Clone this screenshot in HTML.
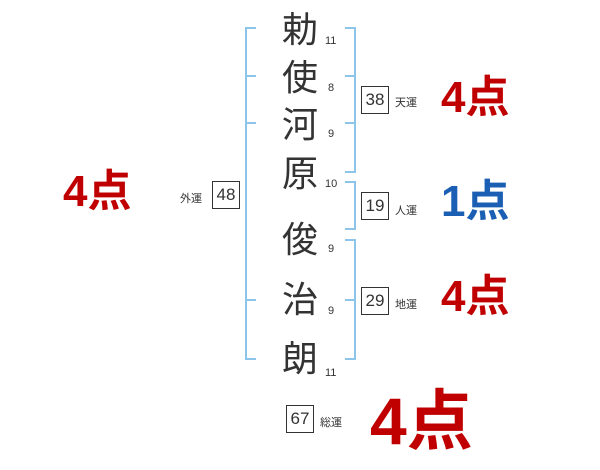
<!DOCTYPE html>
<html><head><meta charset="utf-8"><style>
body{margin:0;width:600px;height:470px;background:#fff;position:relative;overflow:hidden;font-family:"Liberation Sans","Noto Sans CJK JP",sans-serif;}
.k{position:absolute;font-size:36px;color:#333;width:60px;text-align:center;line-height:40px;}
.n{position:absolute;font-size:11px;color:#333;}
.b{position:absolute;border:1px solid #333;width:26px;height:26px;font-size:17px;text-align:center;line-height:26px;color:#333;}
.l{position:absolute;font-size:11px;color:#333;}
.s{position:absolute;font-weight:bold;line-height:1;}
.r{color:#c00000}.bl{color:#1a5fb4}
</style></head><body>
<svg width="600" height="470" style="position:absolute;left:0;top:0">
<g stroke="#8cc4ea" stroke-width="2" fill="none">
<path d="M256 28H246V359H256M246 76H256M246 123H256M246 300H256"/>
<path d="M345 28H355V172H345M345 76H355M345 123H355"/>
<path d="M345 182H355V229H345"/>
<path d="M345 240H355V359H345M345 300H355"/>
</g></svg>
<div class="k" style="left:270px;top:10px">勅</div>
<div class="k" style="left:270px;top:58px">使</div>
<div class="k" style="left:270px;top:105px">河</div>
<div class="k" style="left:270px;top:154px">原</div>
<div class="k" style="left:270px;top:220px">俊</div>
<div class="k" style="left:270px;top:280px">治</div>
<div class="k" style="left:270px;top:339px">朗</div>
<div class="n" style="left:325px;top:35px">11</div>
<div class="n" style="left:328px;top:82px">8</div>
<div class="n" style="left:328px;top:128px">9</div>
<div class="n" style="left:325px;top:178px">10</div>
<div class="n" style="left:328px;top:243px">9</div>
<div class="n" style="left:328px;top:305px">9</div>
<div class="n" style="left:325px;top:367px">11</div>
<div class="b" style="left:361px;top:86px">38</div><div class="l" style="left:395px;top:94px">天運</div>
<div class="b" style="left:361px;top:192px">19</div><div class="l" style="left:395px;top:202px">人運</div>
<div class="b" style="left:361px;top:287px">29</div><div class="l" style="left:395px;top:296px">地運</div>
<div class="b" style="left:212px;top:181px">48</div><div class="l" style="left:180px;top:190px">外運</div>
<div class="b" style="left:286px;top:405px">67</div><div class="l" style="left:320px;top:414px">総運</div>
<div class="s r" style="left:441px;top:76px;font-size:44px">4点</div>
<div class="s bl" style="left:441px;top:180px;font-size:44px">1点</div>
<div class="s r" style="left:441px;top:275px;font-size:44px">4点</div>
<div class="s r" style="left:63px;top:170px;font-size:44px">4点</div>
<div class="s r" style="left:370px;top:388px;font-size:66px">4点</div>
</body></html>
